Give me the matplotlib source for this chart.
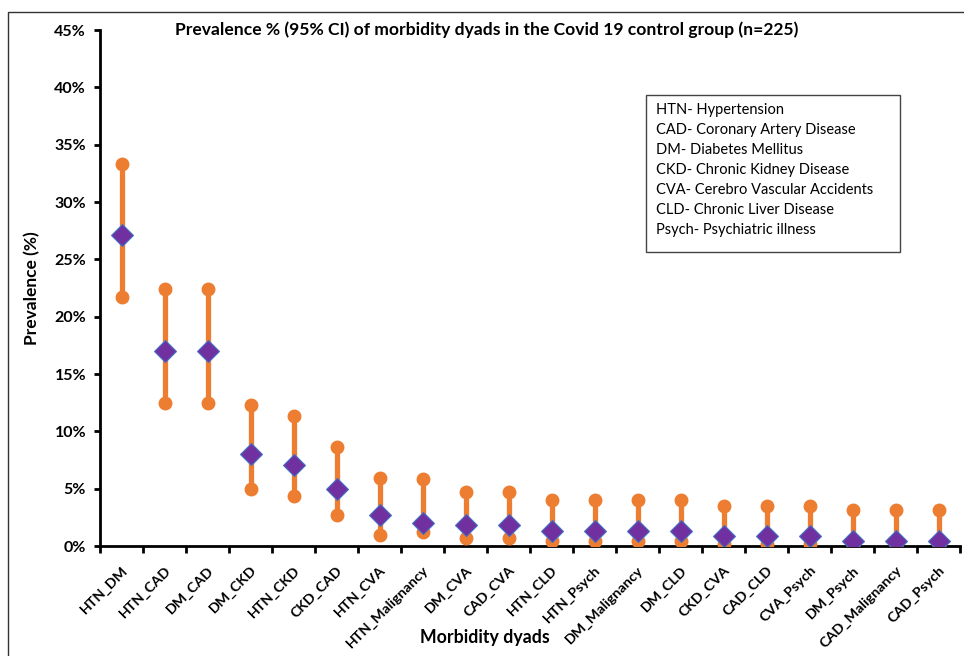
import matplotlib
matplotlib.use("Agg")
import matplotlib.pyplot as plt
import matplotlib.patches as patches
import matplotlib.transforms as mtransforms
from matplotlib.ticker import PercentFormatter, MultipleLocator
import numpy as np

# dyads and prevalence (%) with 95% CI
dyads = ["HTN_DM", "HTN_CAD", "DM_CAD", "DM_CKD", "HTN_CKD", "CKD_CAD", "HTN_CVA",
         "HTN_Malignancy", "DM_CVA", "CAD_CVA", "HTN_CLD", "HTN_Psych", "DM_Malignancy",
         "DM_CLD", "CKD_CVA", "CAD_CLD", "CVA_Psych", "DM_Psych", "CAD_Malignancy", "CAD_Psych"]
prev = [27.1, 17.0, 17.0, 8.0, 7.1, 5.0, 2.7, 2.0, 1.8, 1.8,
        1.3, 1.3, 1.3, 1.3, 0.9, 0.9, 0.9, 0.4, 0.4, 0.4]
ci_low = [21.7, 12.5, 12.5, 5.0, 4.4, 2.7, 1.0, 1.2, 0.7, 0.7,
          0.4, 0.4, 0.4, 0.4, 0.2, 0.2, 0.2, 0.0, 0.0, 0.0]
ci_high = [33.3, 22.4, 22.4, 12.3, 11.3, 8.6, 5.9, 5.8, 4.7, 4.7,
           4.0, 4.0, 4.0, 4.0, 3.5, 3.5, 3.5, 3.1, 3.1, 3.1]

legend_lines = ["HTN- Hypertension", "CAD- Coronary Artery Disease", "DM- Diabetes Mellitus",
                "CKD- Chronic Kidney Disease", "CVA- Cerebro Vascular Accidents",
                "CLD- Chronic Liver Disease", "Psych- Psychiatric illness"]

plt.rcParams['font.family'] = ['Lato', 'DejaVu Sans']

orange = "#ED7D31"
purple = "#7030A0"

fig = plt.figure(figsize=(9.64, 6.56), dpi=100)
ax = fig.add_axes([100 / 964, 1 - 546 / 656, 860 / 964, 516 / 656])

x = np.arange(len(dyads))
ax.vlines(x, ci_low, ci_high, color=orange, linewidth=3.8, zorder=2)
ax.plot(x, ci_low, 'o', color=orange, markersize=9, zorder=3, linestyle='none')
ax.plot(x, ci_high, 'o', color=orange, markersize=9, zorder=3, linestyle='none')
ax.plot(x, prev, 'D', color=purple, markeredgecolor="#4472C4", markeredgewidth=0.8,
        markersize=11, zorder=4, linestyle='none')

ax.set_xlim(-0.5, len(dyads) - 0.5)
ax.set_ylim(0, 45)
ax.yaxis.set_major_locator(MultipleLocator(5))
ax.yaxis.set_major_formatter(PercentFormatter(decimals=0))

ax.set_xticks(np.arange(len(dyads) + 1) - 0.5)
ax.set_xticklabels([])
ax.set_xticks(x, minor=True)
ax.set_xticklabels(dyads, minor=True, rotation=45, ha='right', va='center',
                   rotation_mode='anchor', fontsize=10.3, fontweight='bold')
ax.tick_params(axis='x', which='minor', length=0, pad=16)
ax.tick_params(axis='x', which='major', length=5, width=2, direction='out')
ax.tick_params(axis='y', length=4, width=2, direction='out', labelsize=11.5, pad=6)
for lab in ax.get_yticklabels():
    lab.set_fontweight('bold')
# nudge the rotated labels a little to the right, as in the original
shift = mtransforms.ScaledTranslation(4 / 100, 0, fig.dpi_scale_trans)
for lab in ax.get_xticklabels(minor=True):
    lab.set_transform(lab.get_transform() + shift)

for s in ['top', 'right']:
    ax.spines[s].set_visible(False)
for s in ['left', 'bottom']:
    ax.spines[s].set_linewidth(2)
    ax.spines[s].set_color('black')

ax.set_ylabel("Prevalence (%)", fontsize=12.5, fontweight='bold', labelpad=10)
fig.text(485 / 964, 1 - 637 / 656, "Morbidity dyads", fontsize=12.8, fontweight='bold',
         ha='center', va='center')
fig.text(487 / 964, 1 - 30 / 656, "Prevalence % (95% CI) of morbidity dyads in the Covid 19 control group (n=225)",
         fontsize=12.6, fontweight='bold', ha='center', va='center')

# abbreviation box
box = patches.Rectangle((646 / 964, 1 - 252 / 656), 254 / 964, 157 / 656,
                        transform=fig.transFigure, fill=False, edgecolor='#444444', linewidth=1)
fig.add_artist(box)
for i, line in enumerate(legend_lines):
    fig.text(656 / 964, 1 - (110 + i * 20) / 656, line, fontsize=10.5, ha='left', va='center')

# outer chart frame
frame = patches.Rectangle((8 / 964, -0.05), 1.0, 1 - 12 / 656 + 0.05,
                          transform=fig.transFigure, fill=False, edgecolor='#333333', linewidth=1)
fig.add_artist(frame)

fig.savefig("out.png", dpi=100)
